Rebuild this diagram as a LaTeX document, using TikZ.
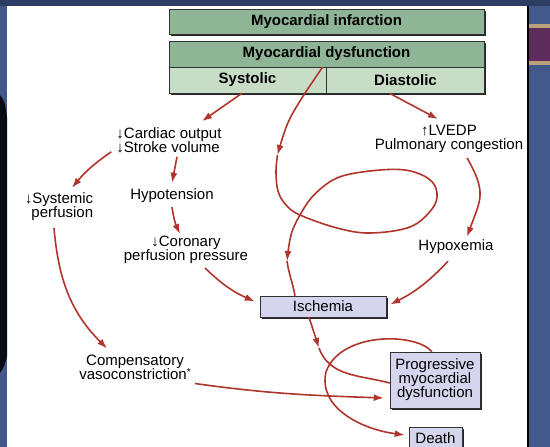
\documentclass[tikz,border=0pt]{standalone}
\usepackage{fontspec}
\setmainfont{Liberation Sans}
\usetikzlibrary{arrows.meta,shadows}

\definecolor{arrowred}{HTML}{B0352C}
\definecolor{boxgreen}{HTML}{8FB597}
\definecolor{palegreen}{HTML}{C8DDC5}
\definecolor{lavender}{HTML}{D5D5EE}
\definecolor{slideblue}{HTML}{42578A}
\definecolor{slidenavy}{HTML}{2D3C62}
\definecolor{slideplum}{HTML}{5E2C5A}
\definecolor{slidetan}{HTML}{B9A27C}

\begin{document}
\begin{tikzpicture}
	[x=1pt,y=1pt,
	lbl/.style={font=\fontsize{15}{14}\selectfont,inner sep=1pt},
	box/.style={draw=black!80,line width=0.5pt,inner sep=0pt,
		font=\fontsize{15}{14}\selectfont,
		drop shadow={shadow xshift=1.6pt,shadow yshift=-1.6pt,fill=black!85,opacity=1}},
	gbox/.style={box,fill=boxgreen,font=\fontsize{15}{14}\selectfont\bfseries},
	pbox/.style={gbox,fill=palegreen},
	vbox/.style={box,fill=lavender},
	line/.style={color=arrowred,line width=1.6pt},
	arr/.style={line,-{Latex[length=10pt,width=7pt]}}]

    % slide background
    \useasboundingbox (0,0) rectangle (550,447);
    \fill[white] (0,0) rectangle (550,447);
    \fill[slidenavy] (0,441) rectangle (550,447);
    \fill[slideblue] (0,0) rectangle (7,441);
    \fill[black!80!slidenavy] (0,352) .. controls (5,345) .. (7,330) -- (7,90) .. controls (4,80) .. (0,74) -- cycle;
    \fill[slideblue] (528,0) rectangle (550,441);
    \fill[slidetan] (529,382) rectangle (550,423);
    \fill[slideplum] (529,386) rectangle (550,419);
    \draw[black,line width=1.2pt] (528,0) -- (528,441);

    % boxes
    \node[gbox,minimum width=315pt,minimum height=25pt] (infarct) at (326.5,425.5) {Myocardial infarction};
    \node[gbox,minimum width=315pt,minimum height=26pt] (dysfunc) at (326.5,393) {Myocardial dysfunction};
    \node[pbox,minimum width=157pt,minimum height=26pt] (systolic) at (247.5,367) {Systolic};
    \node[pbox,minimum width=158pt,minimum height=26pt] (diastolic) at (405.5,367) {Diastolic};

    \node[lbl,align=left] (co) at (169,307) {↓Cardiac output\\↓Stroke volume};
    \node[lbl,align=right] (sys) at (59,240) {↓Systemic\\perfusion};
    \node[lbl] (hypo) at (172,251) {Hypotension};
    \node[lbl,align=center] (cor) at (186,197) {↓Coronary\\perfusion pressure};
    \node[lbl,align=center] (lvedp) at (449,308) {↑LVEDP\\Pulmonary congestion};
    \node[lbl] (hypox) at (456,200) {Hypoxemia};
    \node[lbl,align=center] (comp) at (135,80) {Compensatory\\vasoconstriction\raisebox{3.5pt}{\fontsize{10}{10}\selectfont*}};

    \node[vbox,minimum width=126pt,minimum height=21pt] (isch) at (323,140.5) {Ischemia};
    \node[vbox,minimum width=90pt,minimum height=56pt,align=center] (prog) at (435,67) {Progressive\\myocardial\\dysfunction};
    \node[vbox,minimum width=53pt,minimum height=22pt] (death) at (435.5,9) {Death};

    % connectors
    \draw[arr] ([xshift=-5.5pt]systolic.south) -- ([shift={(33pt,5pt)}]co.north);
    \draw[arr] ([xshift=-16pt]diastolic.south) -- ([shift={(-11pt,5pt)}]lvedp.north);
    \draw[arr] ([shift={(-4pt,2pt)}]co.south west) to [bend right=8] ([shift={(13pt,4pt)}]sys.north);
    \draw[arr] ([shift={(8pt,-3pt)}]co.south) -- ([yshift=5pt]hypo.north);
    \draw[arr] ([yshift=-3pt]hypo.south) to [bend right=8] ([shift={(-6pt,1pt)}]cor.north);
    \draw[arr] ([shift={(19pt,-3pt)}]cor.south) to [bend right=10] ([shift={(-5pt,5pt)}]isch.west);
    \draw[arr] ([shift={(-5pt,-6pt)}]sys.south) to [out=-85,in=135] ([shift={(-28pt,5pt)}]comp.north);
    \draw[arr] ([shift={(3pt,-3pt)}]comp.south east) to [out=-8,in=178] ([shift={(-6pt,-18pt)}]prog.west);
    \draw[arr] ([shift={(18pt,-4pt)}]lvedp.south) to [out=-60,in=70,looseness=1.3] ([shift={(11pt,2pt)}]hypox.north);
    \draw[arr] ([shift={(-8pt,-6pt)}]hypox.south) to [bend left=10] ([shift={(4pt,2pt)}]isch.east);

    % vicious circle, arrow heads half way
    \coordinate (loopa) at (277.5,292);
    \coordinate (loopb) at (287,186);
    \coordinate (ischb) at (319,99);
    \draw[arr] plot[smooth,tension=0.6] coordinates {([xshift=-4pt]dysfunc.south) (300,346) (287,322) (loopa)};
    \draw[arr] plot[smooth,tension=0.6] coordinates {(loopa) (276,275) (278,256) (286,242) (300,232) (337,219)
        (370,214) (410,220) (432,238) (437,254) (429,268) (405,277) (370,276) (337,269) (314,252)
        (300,232) (291,212) (loopb)};
    \draw[line] (loopb) to [out=-82,in=100] ([xshift=-28pt]isch.north);
    \draw[arr] ([xshift=-14pt]isch.south) -- (ischb);
    \draw[line] (ischb) to [out=-70,in=165] ([yshift=-3pt]prog.west);
    \draw[arr] ([xshift=-3pt]prog.north) .. controls (415,115) and (340,115) .. (326,75)
      .. controls (318,40) and (360,18) .. ([shift={(-4pt,3pt)}]death.west);

\end{tikzpicture}
\end{document}
